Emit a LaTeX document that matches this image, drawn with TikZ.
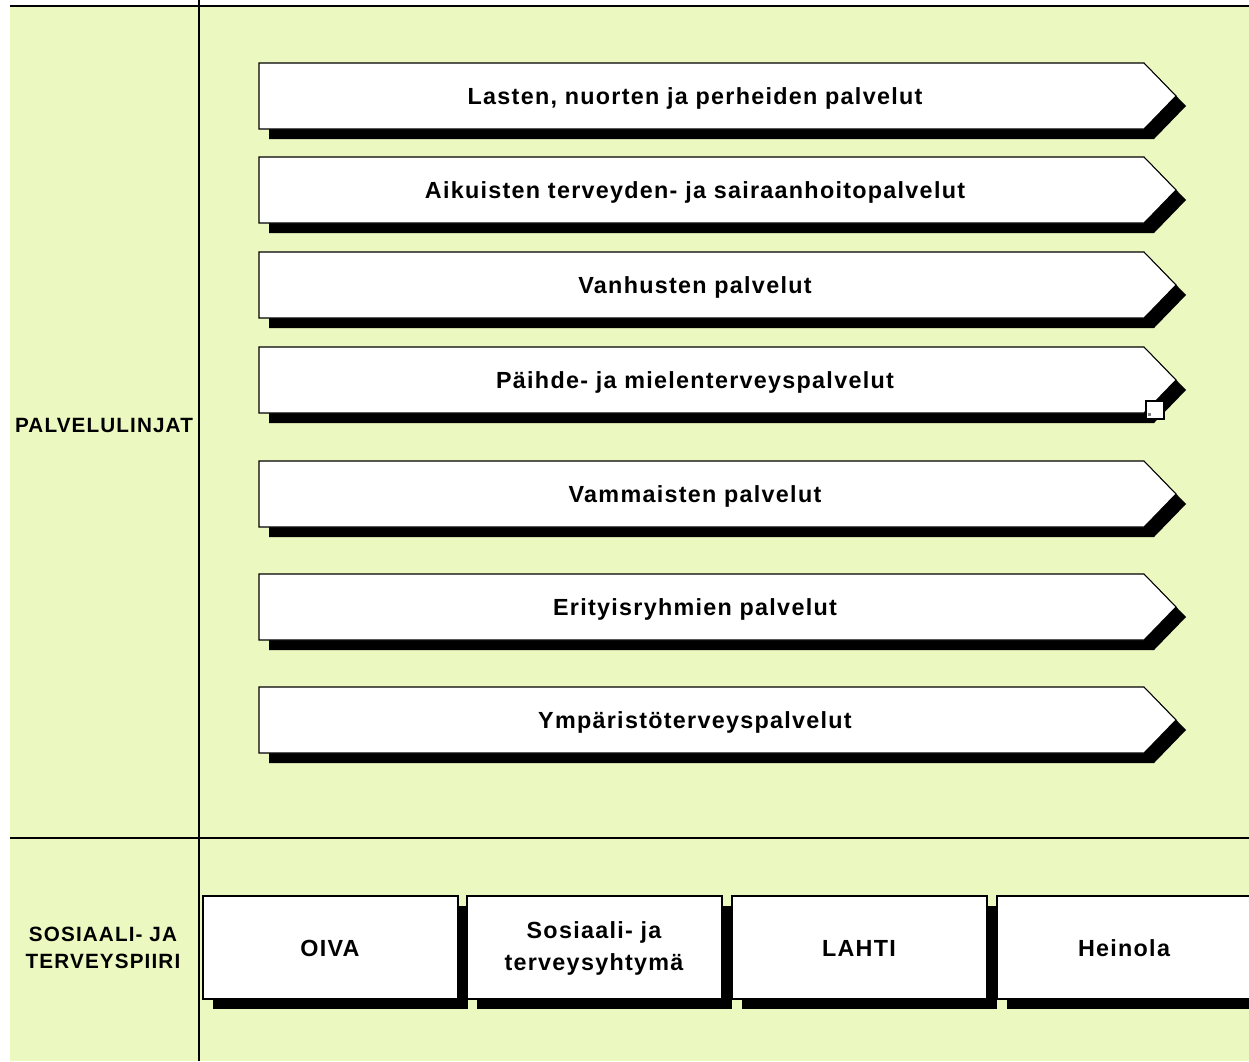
\documentclass[tikz,border=0pt]{standalone}
\usepackage{fontspec}
\setmainfont{Liberation Sans}
\newfontfamily\chartfont[LetterSpace=5.5]{Liberation Sans}
\definecolor{bggreen}{RGB}{235,249,192}
\begin{document}
\begin{tikzpicture}[x=0.75pt,y=-0.75pt,
  txt/.style={font=\chartfont\bfseries\fontsize{17.5}{24}\selectfont,align=center},
  rowlabel/.style={font=\chartfont\bfseries\fontsize{15.5}{20}\selectfont,align=center}]
  \useasboundingbox (0,0) rectangle (1249,1061);
  \clip (0,0) rectangle (1249,1061);
  \fill[bggreen] (10,7) rectangle (1249,1061); % background
  \draw[line width=1.5pt] (10,6) -- (1249,6); % top rule
  \draw[line width=1.5pt] (199,0) -- (199,1061); % column rule
  \draw[line width=1.2pt] (10,838) -- (1249,838); % row rule
  % service lines
  \foreach \t/\n/\txt in {63/lasten/{Lasten, nuorten ja perheiden palvelut},
      157/aikuiset/{Aikuisten terveyden- ja sairaanhoitopalvelut},
      252/vanhukset/{Vanhusten palvelut},
      347/paihde/{Päihde- ja mielenterveyspalvelut},
      461/vammaiset/{Vammaisten palvelut},
      574/erityis/{Erityisryhmien palvelut},
      687/ymparisto/{Ympäristöterveyspalvelut}}{
    \fill[black] (269,\t+10) -- (1154,\t+10) -- (1186,\t+43) -- (1154,\t+76) -- (269,\t+76) -- cycle; % shadow
    \filldraw[fill=white,draw=black,line width=0.8pt] (259,\t) -- (1144,\t) -- (1176,\t+33) -- (1144,\t+66) -- (259,\t+66) -- cycle;
    \node[txt] (\n) at (695,\t+35) {\txt};
  }
  \filldraw[fill=white,draw=black,line width=0.8pt] (1146,401) rectangle (1164,419); % handle
  \fill[gray] (1148,413) rectangle (1151,416);
  % districts
  \foreach \x/\n/\txt in {203/oiva/OIVA,
      467/syhtyma/{Sosiaali- ja\\terveysyhtymä},
      732/lahti/LAHTI,
      997/heinola/Heinola}{
    \fill[black] (\x+10,906) rectangle (\x+265,1009); % shadow
    \filldraw[fill=white,draw=black,line width=0.8pt] (\x,896) rectangle (\x+255,999);
    \node[txt] (\n) at (\x+127,948) {\txt};
  }
  \node[rowlabel] (linjat) at (104,425) {PALVELULINJAT};
  \node[rowlabel] (piiri) at (103,948) {SOSIAALI- JA\\TERVEYSPIIRI};
\end{tikzpicture}
\end{document}
